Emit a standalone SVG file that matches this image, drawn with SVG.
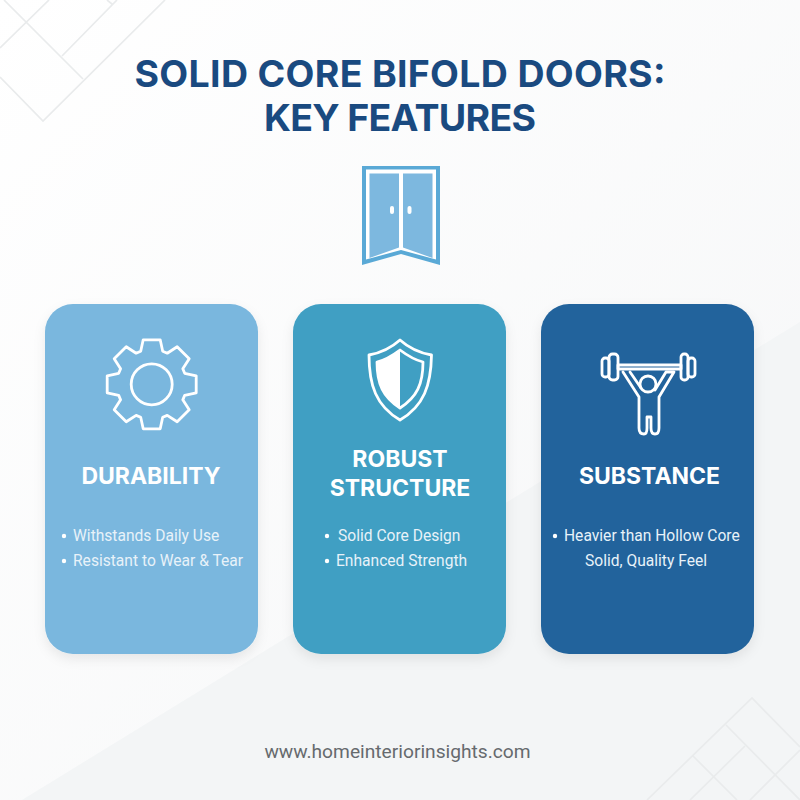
<svg xmlns="http://www.w3.org/2000/svg" width="800" height="800" viewBox="0 0 800 800">
<style>
.bg{fill:none;stroke:#e9ebec;stroke-width:1.700}
.t{font-family:Inter,"Liberation Sans",sans-serif;font-weight:700;fill:#1a4a80;font-size:37.500px;text-anchor:middle}
.h{font-family:Inter,"Liberation Sans",sans-serif;font-weight:700;fill:#fff;font-size:23px;text-anchor:middle}
.b{font-family:Roboto,"Liberation Sans",sans-serif;fill:#e8f2f9;font-size:15.600px}
.i{fill:none;stroke:#fff;stroke-width:2.800;stroke-linejoin:round;stroke-linecap:round}
</style>
<defs>
<linearGradient id="g" x1="0" y1="0" x2="1" y2="1"><stop offset="0" stop-color="#fff"/><stop offset="1" stop-color="#f5f6f7"/></linearGradient>
<filter id="s" x="-15%" y="-15%" width="130%" height="130%"><feDropShadow dx="0" dy="5" stdDeviation="6" flood-color="#000" flood-opacity=".08"/></filter>
</defs>
<rect width="800" height="800" fill="url(#g)"/>
<polygon points="800,322 800,800 22,800" fill="#f3f5f6"/>
<g id="pattern">
<path class="bg" d="M165 0L43 121L0 77M49 0L0 48M4 0L83 79M62 56L117 0M107 0L112 4"/>
<path class="bg" d="M647 800L752 698L800 747M726 725L800 800M693 756L737 800M690 800L745 746M750 800L800 750"/>
</g>
<g id="title">
<text class="t" x="400" y="87" textLength="531" lengthAdjust="spacing">SOLID CORE BIFOLD DOORS:</text>
<text class="t" x="400" y="131" textLength="272" lengthAdjust="spacing">KEY FEATURES</text>
</g>
<g id="door">
<polygon points="362,166 440,166 440,265 401,254 362,265" fill="#5aa9d6"/>
<polygon points="366,169.500 436,169.500 436,259.500 401,250 366,259.500" fill="#fff"/>
<polygon points="369.500,173.500 399,173.500 399,247.500 369.500,258" fill="#7db8df"/>
<polygon points="403,173.500 432.500,173.500 432.500,258 403,247.500" fill="#7db8df"/>
<rect x="390" y="206" width="4" height="8" rx="2" fill="#fff"/>
<rect x="407.500" y="206" width="4" height="8" rx="2" fill="#fff"/>
</g>
<g id="card-durability">
<rect x="45" y="304" width="213" height="350" rx="28" fill="#7ab7de" filter="url(#s)"/>
<g transform="translate(151.700 384.300)"><path class="i" d="M-8.500 -44.500L8.500 -44.500L11 -33L15.560 -31.100L25.460 -37.500L37.500 -25.460L31.100 -15.560L33 -11L44.500 -8.500L44.500 8.500L33 11L31.100 15.560L37.500 25.460L25.460 37.500L15.560 31.100L11 33L8.500 44.500L-8.500 44.500L-11 33L-15.560 31.100L-25.460 37.500L-37.500 25.460L-31.100 15.560L-33 11L-44.500 8.500L-44.500 -8.500L-33 -11L-31.100 -15.560L-37.500 -25.460L-25.460 -37.500L-15.560 -31.100L-11 -33Z"/><circle class="i" r="20.500"/></g>
<text class="h" x="151" y="484">DURABILITY</text>
<text class="b" x="73" y="541">Withstands Daily Use</text>
<text class="b" x="73" y="566">Resistant to Wear &amp; Tear</text>
<circle cx="64" cy="536" r="2.200" fill="#fff"/><circle cx="64" cy="561" r="2.200" fill="#fff"/>
</g>
<g id="card-structure">
<rect x="293" y="304" width="213" height="350" rx="28" fill="#3f9fc3" filter="url(#s)"/>
<path class="i" d="M400 340C390 349 380 353 369 355C369 385 376 406 400 420C424 406 431 385 431.500 355C420 353 410 349 400 340Z"/>
<path class="i" d="M400 350C392 356 385 360 377 362C377 384 383 397 400 408C417 397 423 384 423 362C415 360 408 356 400 350Z"/>
<path fill="#fff" d="M400 350C392 356 385 360 377 362C377 384 383 397 400 408Z"/>
<text class="h" x="400" y="467">ROBUST</text>
<text class="h" x="400" y="496">STRUCTURE</text>
<text class="b" x="338" y="541">Solid Core Design</text>
<text class="b" x="336" y="566">Enhanced Strength</text>
<circle cx="327" cy="536" r="2.200" fill="#fff"/><circle cx="327" cy="561" r="2.200" fill="#fff"/>
</g>
<g id="card-substance">
<rect x="541" y="304" width="213" height="350" rx="28" fill="#24649c" filter="url(#s)"/>
<g>
<rect class="i" x="602" y="358" width="7" height="19" rx="3"/>
<rect class="i" x="609" y="354" width="9" height="26" rx="3.500"/>
<rect class="i" x="681" y="354" width="7" height="26" rx="3"/>
<rect class="i" x="688" y="358" width="7" height="19" rx="3"/>
<path class="i" d="M618 365H681V369H618Z"/>
<circle class="i" cx="648" cy="384" r="8"/>
<path class="i" d="M623 372L639 397V428Q639 434 644 434Q647 434 647 428V417H651V428Q651 434 655 434Q659 434 659 428V397L674 372H666L655 390M630 372L641 388"/>
</g>
<text class="h" x="649.500" y="484">SUBSTANCE</text>
<text class="b" x="564" y="541">Heavier than Hollow Core</text>
<text class="b" x="585" y="566">Solid, Quality Feel</text>
<circle cx="555" cy="536" r="2.200" fill="#fff"/>
</g>
<text id="footer" x="397.500" y="758" font-family="Roboto,'Liberation Sans',sans-serif" font-size="19.200" fill="#666a6e" text-anchor="middle">www.homeinteriorinsights.com</text>
</svg>
